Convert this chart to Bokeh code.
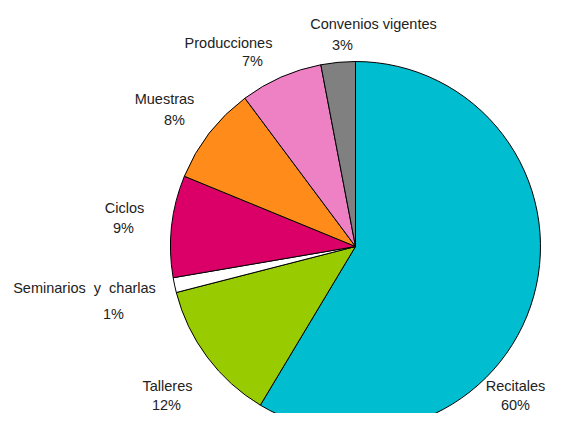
import math
from bokeh.plotting import figure
from bokeh.models import Range1d, ColumnDataSource
from bokeh.core.properties import value
from bokeh.embed import file_html
from bokeh.resources import INLINE

# ---- data ----
categories = ["Recitales", "Talleres", "Seminarios \u00a0y \u00a0charlas", "Ciclos",
              "Muestras", "Producciones", "Convenios vigentes"]
shares = [58.6, 12.4, 1.3, 8.9, 8.6, 7.2, 3.0]
pct_labels = ["60%", "12%", "1%", "9%", "8%", "7%", "3%"]

# ---- style / layout ----
colors = ["#00BDD0", "#99CC00", "#FFFFFF", "#DB0068", "#FF8C1A", "#EE80C4", "#808080"]
W, H = 548, 413
cx, cy, R = 355, 167, 185
# label offsets relative to pie centre (name, pct)
name_off = [(160, -139), (-188, -139), (-271, -41), (-231, 39), (-191, 148), (-127, 204), (18, 223)]
pct_off = [(160, -158), (-189, -158), (-242, -67), (-232, 19), (-181, 127), (-103, 186), (-13, 202)]

total = sum(shares)
starts, ends = [], []
cum = 0.0
for s in shares:
    a0 = math.pi / 2 - 2 * math.pi * cum / total
    cum += s
    a1 = math.pi / 2 - 2 * math.pi * cum / total
    starts.append(a0)
    ends.append(a1)

src = ColumnDataSource(dict(start=starts, end=ends, color=colors))

p = figure(width=W, height=H, x_range=Range1d(0, W), y_range=Range1d(0, H),
           output_backend="svg", toolbar_location=None, min_border=0)
p.axis.visible = False
p.grid.visible = False
p.outline_line_color = None
p.background_fill_color = "white"

p.wedge(x=cx, y=cy, radius=R, start_angle="start", end_angle="end",
        direction="clock", fill_color="color", line_color="black",
        line_width=1, source=src)

font = value("Liberation Sans")
p.text(x=[cx + o[0] for o in name_off], y=[cy + o[1] for o in name_off],
       text=categories, text_font=font, text_font_size="14.5px",
       text_color="#222222", text_align="center", text_baseline="middle")
p.text(x=[cx + o[0] for o in pct_off], y=[cy + o[1] for o in pct_off],
       text=pct_labels, text_font=font, text_font_size="14.5px",
       text_color="#222222", text_align="center", text_baseline="middle")

open("out.html", "w").write(file_html(p, INLINE))
